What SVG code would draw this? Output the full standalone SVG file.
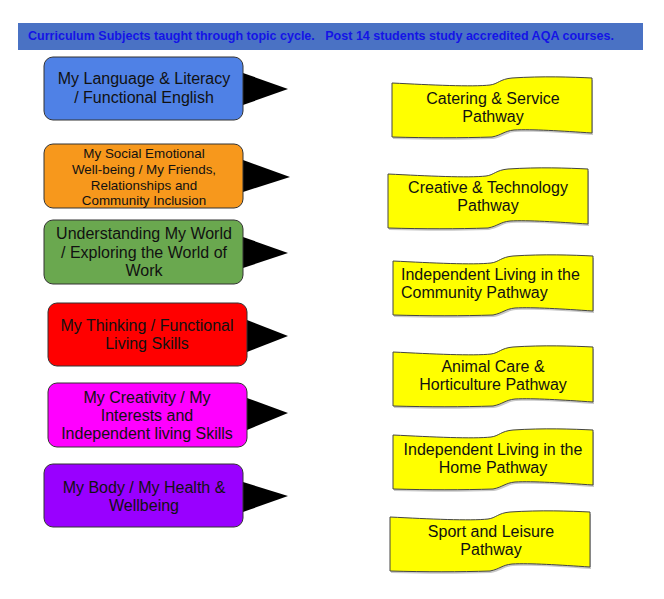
<svg xmlns="http://www.w3.org/2000/svg" width="664" height="599" viewBox="0 0 664 599">
<style>
  .t { font-family: "Liberation Sans", Arial, sans-serif; font-size: 16px; fill: #111; text-anchor: middle; }
  .s { font-size: 13.4px; }
  .box { stroke: #333; stroke-width: 1; }
  .wave { fill: #ffff00; stroke: #444; stroke-width: 1; }
  .shadow { fill: #c8c8c8; }
  .ptr { fill: #000; }
  .hdr { font-family: "Liberation Sans", Arial, sans-serif; font-size: 12.5px; font-weight: bold; fill: #1414e6; }
</style>
<defs>
  <path id="wave" d="M0,7 C40,9 80,11 98,9 C106,8 108,3 120,2 C150,0 180,1 200,2 L200,57 C170,55 140,53 122,54 C112,55 110,59 100,61 C70,62 35,62 0,61 Z"/>
</defs>
<rect width="664" height="599" fill="#ffffff"/>
<g id="header">
  <rect x="18" y="23" width="625" height="27" fill="#4a72c4"/>
  <text class="hdr" x="28" y="40" textLength="586" lengthAdjust="spacingAndGlyphs" xml:space="preserve">Curriculum Subjects taught through topic cycle.   Post 14 students study accredited AQA courses.</text>
</g>
<g id="connectors">
  <polygon class="ptr" points="243,73 288,89 243,105"/>
  <polygon class="ptr" points="243,160 290,177 243,192"/>
  <polygon class="ptr" points="243,237 288,253 243,268"/>
  <polygon class="ptr" points="247,320 288,336 247,352"/>
  <polygon class="ptr" points="247,398 288,413 247,430"/>
  <polygon class="ptr" points="243,482 288,496 243,512"/>
  <rect class="ptr" x="238" y="492" width="7" height="6"/>
</g>
<g id="node-language">
  <rect class="box" x="44" y="57" width="199" height="63" rx="9" fill="#4f81e6"/>
  <text class="t" x="144" y="84">My Language &amp; Literacy</text>
  <text class="t" x="144" y="103">/ Functional English</text>
</g>
<g id="node-social">
  <rect class="box" x="44" y="144" width="199" height="64" rx="9" fill="#f7981c"/>
  <text class="t s" x="144" y="158">My Social Emotional</text>
  <text class="t s" x="144" y="174">Well-being / My Friends,</text>
  <text class="t s" x="144" y="190">Relationships and</text>
  <text class="t s" x="144" y="205">Community Inclusion</text>
</g>
<g id="node-world">
  <rect class="box" x="44" y="220" width="199" height="64" rx="9" fill="#6aa84f"/>
  <text class="t" x="144" y="239">Understanding My World</text>
  <text class="t" x="144" y="258">/ Exploring the World of</text>
  <text class="t" x="144" y="276">Work</text>
</g>
<g id="node-thinking">
  <rect class="box" x="48" y="303" width="199" height="63" rx="9" fill="#ff0000"/>
  <text class="t" x="147" y="331">My Thinking / Functional</text>
  <text class="t" x="147" y="349">Living Skills</text>
</g>
<g id="node-creativity">
  <rect class="box" x="48" y="383" width="199" height="64" rx="9" fill="#ff00ff"/>
  <text class="t" x="147" y="403">My Creativity / My</text>
  <text class="t" x="147" y="421">Interests and</text>
  <text class="t" x="147" y="439">Independent living Skills</text>
</g>
<g id="node-body">
  <rect class="box" x="44" y="464" width="199" height="63" rx="9" fill="#9900ff"/>
  <text class="t" x="144" y="493">My Body / My Health &amp;</text>
  <text class="t" x="144" y="511">Wellbeing</text>
</g>
<g id="node-catering" transform="translate(392,76)">
  <use href="#wave" class="shadow" x="1" y="2"/>
  <use href="#wave" class="wave"/>
  <text class="t" x="101" y="28">Catering &amp; Service</text>
  <text class="t" x="101" y="46">Pathway</text>
</g>
<g id="node-creative" transform="translate(388,167)">
  <use href="#wave" class="shadow" x="1" y="2"/>
  <use href="#wave" class="wave"/>
  <text class="t" x="100" y="26">Creative &amp; Technology</text>
  <text class="t" x="100" y="44">Pathway</text>
</g>
<g id="node-community" transform="translate(393,254)">
  <use href="#wave" class="shadow" x="1" y="2"/>
  <use href="#wave" class="wave"/>
  <text class="t" x="8" y="26" style="text-anchor:start">Independent Living in the</text>
  <text class="t" x="8" y="44" style="text-anchor:start">Community Pathway</text>
</g>
<g id="node-animal" transform="translate(393,345)">
  <use href="#wave" class="shadow" x="1" y="2"/>
  <use href="#wave" class="wave"/>
  <text class="t" x="100" y="27">Animal Care &amp;</text>
  <text class="t" x="100" y="45">Horticulture Pathway</text>
</g>
<g id="node-home" transform="translate(393,428)">
  <use href="#wave" class="shadow" x="1" y="2"/>
  <use href="#wave" class="wave"/>
  <text class="t" x="100" y="27">Independent Living in the</text>
  <text class="t" x="100" y="45">Home Pathway</text>
</g>
<g id="node-sport" transform="translate(390,510)">
  <use href="#wave" class="shadow" x="1" y="2"/>
  <use href="#wave" class="wave"/>
  <text class="t" x="101" y="27">Sport and Leisure</text>
  <text class="t" x="101" y="45">Pathway</text>
</g>
</svg>
